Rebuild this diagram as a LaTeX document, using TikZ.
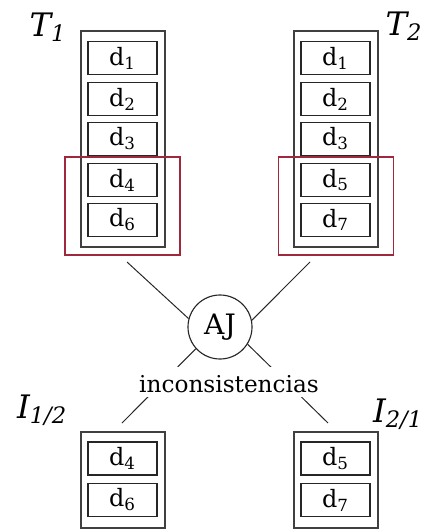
\documentclass[tikz,border=0pt]{standalone}
\usepackage{fontspec}
\setmainfont{DejaVu Serif}
\usetikzlibrary{positioning}
\definecolor{rojomarco}{RGB}{160,40,60}

\begin{document}
\begin{tikzpicture}[
            x=0.025cm, y=-0.025cm,
            tabla/.style={
                draw=black!75,
                line width=1pt,
                minimum width=2.1cm,
                inner sep=0pt
            },
            dato/.style={
                draw=black!85,
                line width=0.8pt,
                minimum width=1.725cm,
                minimum height=0.825cm,
                inner sep=0pt,
                font=\fontsize{17}{20}\selectfont
            },
            marco/.style={
                draw=rojomarco,
                line width=0.8pt,
                minimum width=2.875cm,
                minimum height=2.45cm,
                inner sep=0pt
            },
            etiqueta/.style={
                font=\fontsize{23}{28}\selectfont\itshape
            },
            linea/.style={
                draw=black!85,
                line width=0.7pt
            }
        ]
            \useasboundingbox (0,0) rectangle (422,531);

            % tablas T1 y T2
            \node[tabla, minimum height=5.4cm] (T1) at (123,139) {};
            \node[tabla, minimum height=5.4cm] (T2) at (336,139) {};
            \foreach \i/\a/\b/\y in {
                1/1/1/58,
                2/2/2/99,
                3/3/3/139,
                4/4/5/180,
                5/6/7/220
            } {
                \node[dato] (a\i) at (122.5,\y) {d\textsubscript{\a}};
                \node[dato] (b\i) at (335.5,\y) {d\textsubscript{\b}};
            }
            \node[marco] (m1) at (122.5,206) {};
            \node[marco] (m2) at (336,206) {};

            % inconsistencias I1/2 y I2/1
            \node[tabla, minimum height=2.4cm] (I1) at (123,480) {};
            \node[tabla, minimum height=2.4cm] (I2) at (336,480) {};
            \foreach \i/\a/\b/\y in {
                1/4/5/458.5,
                2/6/7/500
            } {
                \node[dato] (c\i) at (122.5,\y) {d\textsubscript{\a}};
                \node[dato] (e\i) at (335.5,\y) {d\textsubscript{\b}};
            }

            \node[etiqueta] (lT1) at (48,27) {T\textsubscript{1}};
            \node[etiqueta] (lT2) at (404,26) {T\textsubscript{2}};
            \node[etiqueta] (lI1) at (42,410) {I\textsubscript{1/2}};
            \node[etiqueta] (lI2) at (398,414) {I\textsubscript{2/1}};

            \node[circle, draw=black!85, line width=0.8pt, minimum size=1.6cm,
                inner sep=0pt, font=\fontsize{20}{24}\selectfont] (AJ) at (220,327) {AJ};

            \coordinate (p1) at (127,262);
            \coordinate (p2) at (310,262);
            \coordinate (p3) at (122,423);
            \coordinate (p4) at (328,423);
            \draw[linea] (p1) -- (AJ.165);
            \draw[linea] (p2) -- (AJ.12);
            \draw[linea] (AJ.222) -- (p3);
            \draw[linea] (AJ.-32) -- (p4);

            \node[fill=white, inner xsep=2pt, inner ysep=0.05cm,
                text height=0.575cm, text depth=0.075cm, anchor=base,
                font=\fontsize{16.5}{20}\selectfont] (inc) at (229,392) {inconsistencias};
        \end{tikzpicture}
\end{document}
